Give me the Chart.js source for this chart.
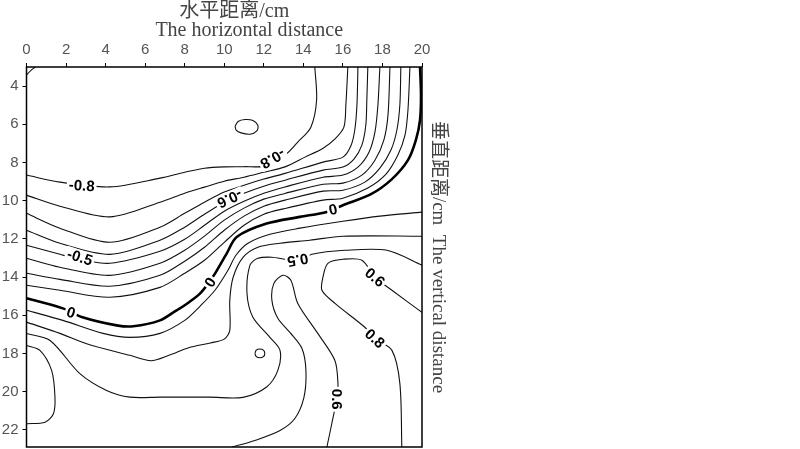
<!DOCTYPE html>
<html><head><meta charset="utf-8">
<script src="https://cdn.jsdelivr.net/npm/chart.js@4.4.1/dist/chart.umd.min.js"></script>
<style>html,body{margin:0;padding:0;background:#fff;}#wrap{width:460px;height:449px;}</style>
</head><body>
<div id="wrap"><canvas id="c" width="460" height="449"></canvas></div>
<script>
// tick labels
const xTicks = [0,2,4,6,8,10,12,14,16,18,20];
const yTicks = [4,6,8,10,12,14,16,18,20,22];

// contour lines, [x (cm), y (cm)]
const neg08 = [[0,8.66],[1.69,9.03],[4.22,9.28],[6.75,8.82],[8.0,8.51],[9.0,8.3],[10.0,8.23],[11.0,8.22],[12.0,8.19],[12.46,7.77],[13.07,7.61],[13.72,6.93],[14.38,6.15],[14.67,4.73],[14.58,3.0]];
const band1 = [[0,9.71],[1.69,10.29],[4.22,10.85],[6.75,10.08],[8.0,9.61],[9.0,9.29],[10.0,8.98],[11.0,8.77],[12.0,8.51],[13.07,8.23],[14.08,7.72],[15.0,7.25],[15.59,6.78],[16.05,6.15],[16.15,4.99],[16.25,3.0]];
const band2 = [[0,10.66],[1.69,11.44],[4.22,12.18],[6.75,11.39],[8.0,10.66],[9.0,10.08],[10.0,9.55],[11.0,9.19],[12.0,8.87],[13.07,8.57],[15.0,7.98],[16.0,7.72],[16.4,7.14],[16.6,6.3],[16.71,4.99],[16.76,3.0]];
const band3 = [[0,11.55],[1.69,12.23],[4.22,12.81],[6.75,12.07],[8.0,11.39],[9.0,10.71],[10.0,10.08],[11.0,9.61],[12.0,9.24],[13.07,8.93],[15.0,8.4],[16.0,8.24],[16.56,7.82],[16.96,7.09],[17.16,6.04],[17.21,4.73],[17.26,3.0]];
const band4 = [[0,12.33],[1.69,12.81],[2.7,13.07],[4.22,13.28],[6.75,12.65],[8.0,12.02],[9.0,11.29],[10.0,10.55],[11.0,10.03],[12.0,9.61],[13.07,9.28],[15.0,8.77],[16.0,8.66],[16.76,8.24],[17.32,7.46],[17.62,6.41],[17.77,5.0],[17.87,3.0]];
const band5 = [[0,13.02],[1.69,13.49],[4.22,13.91],[6.75,13.28],[8.0,12.6],[9.0,11.86],[10.0,11.02],[11.0,10.39],[12.0,9.92],[13.07,9.62],[15.0,9.14],[16.0,9.08],[16.96,8.66],[17.62,7.88],[18.07,6.83],[18.28,5.52],[18.38,3.0]];
const band6 = [[0,13.8],[1.69,14.12],[4.22,14.48],[6.75,13.91],[8.0,13.17],[9.0,12.44],[10.0,11.55],[11.0,10.81],[12.0,10.29],[13.07,9.97],[15.0,9.5],[16.0,9.45],[17.11,9.03],[17.87,8.3],[18.43,7.35],[18.73,6.3],[18.88,4.99],[18.93,3.0]];
const band7 = [[0,14.43],[1.69,14.69],[4.22,15.06],[6.75,14.54],[8.0,13.8],[9.0,13.12],[10.0,12.18],[11.0,11.29],[12.0,10.71],[13.07,10.41],[15.0,9.97],[16.0,9.87],[17.26,9.34],[18.18,8.61],[18.78,7.61],[19.14,6.57],[19.29,5.25],[19.39,3.0]];
const zero = [[0,15.11],[1.84,15.64],[2.79,16.09],[4.56,16.53],[5.4,16.58],[6.75,16.27],[7.59,15.74],[8.0,15.48],[8.77,14.87],[9.23,14.27],[9.53,13.82],[10.12,12.77],[10.63,11.9],[12.14,11.2],[13.83,10.85],[15.18,10.59],[16.0,10.24],[17.42,9.66],[18.48,8.87],[19.29,7.88],[19.69,6.83],[19.9,5.78],[19.95,4.47],[19.9,3.0]];
const pos1 = [[0,15.74],[1.84,16.27],[3.87,16.95],[5.23,17.16],[6.75,16.95],[8.0,16.27],[8.77,15.53],[9.53,14.69],[10.19,13.64],[10.59,12.86],[11.2,12.23],[12.31,11.76],[13.83,11.44],[16.0,11.08],[17.87,10.81],[20,10.6]];
const pos2 = [[0,16.36],[1.69,16.95],[3.04,17.49],[5.23,18.1],[6.3,18.38],[7.2,18.1],[8.2,17.7],[9.3,17.45],[10.0,17.25],[10.28,16.79],[10.28,15.22],[10.45,14.01],[10.96,12.96],[11.7,12.44],[12.82,12.23],[14.33,12.07],[16.0,11.86],[20,11.86]];
const pos3 = [[0,16.96],[1.19,17.32],[2.7,19.06],[4.05,19.94],[5.23,20.29],[6.75,20.29],[9.28,20.29],[10.95,20.3],[12.14,19.76],[12.71,18.89],[12.82,17.84],[12.31,17.16],[11.45,16.11],[11.15,14.85],[11.3,13.38],[11.7,13.02],[12.41,12.96],[13.07,13.07],[13.72,13.17],[14.43,12.81],[16.1,12.6],[18.23,12.6],[20,13.38]];
const hairpin = [[10.39,22.9],[11.55,22.56],[12.82,22.04],[13.57,21.41],[14.03,20.3],[14.13,18.89],[13.93,17.74],[13.32,16.9],[12.71,16.16],[12.41,15.22],[12.51,14.33],[12.97,13.91],[13.37,14.17],[13.72,15.38],[14.73,16.95],[15.59,18.36],[15.75,19.57],[15.69,20.36],[15.44,21.67],[15.19,22.9]];
const rightLoop = [[20,15.85],[18.48,14.69],[17.62,14.01],[16.96,13.12],[16.0,13.07],[15.24,13.28],[14.99,14.01],[14.94,14.69],[15.6,15.38],[17.11,16.63],[17.62,17.21],[18.48,17.84],[18.88,19.57],[18.98,22.9]];
const leftPocket = [[0,17.58],[0.68,17.84],[1.27,18.89],[1.44,20.29],[1.36,21.16],[0.94,21.6],[0,21.68]];
const topEllipse = [[10.55,6.1],[10.7,5.85],[11.05,5.75],[11.45,5.8],[11.7,6.05],[11.65,6.35],[11.3,6.52],[10.85,6.45],[10.6,6.3],[10.55,6.1]];
const smallCircle = [[11.55,18.0],[11.62,17.83],[11.8,17.77],[11.98,17.83],[12.05,18.0],[11.98,18.17],[11.8,18.23],[11.62,18.17],[11.55,18.0]];
const cornerArc = [[0,3.42],[0.2,3.2],[0.45,3.0]];

// contour labels: text, x, y, angle (deg)
const labelTexts = ['-0.8','-0.8','-0.6','-0.5','0','0','0','0.5','0.6','0.8','0.6'];
const labelX = [2.79,12.46,10.28,2.7,2.25,9.28,15.5,13.72,17.62,17.62,15.69];
const labelY = [9.2,7.8,9.9,12.95,15.85,14.27,10.45,13.12,14.01,17.21,20.4];
const labelAngle = [4,150,155,18,18,-58,-12,170,40,42,90];

const thin = [neg08,band1,band2,band3,band4,band5,band6,band7,pos1,pos2,pos3,hairpin,rightLoop,leftPocket,topEllipse,smallCircle,cornerArc];
const toPts = a => a.map(p => ({x:p[0], y:p[1]}));
const datasets = thin.map(a => ({data:toPts(a), borderColor:'#111', borderWidth:1.1, pointRadius:0, showLine:true, tension:0.3, fill:false}));
datasets.push({data:toPts(zero), borderColor:'#000', borderWidth:2.6, pointRadius:0, showLine:true, tension:0.3, fill:false});

const labelPlugin = {
  id:'contourLabels',
  afterDatasetsDraw(chart){
    const {ctx, chartArea:a} = chart;
    const xs = chart.scales.x, ys = chart.scales.y;
    ctx.save();
    ctx.beginPath(); ctx.rect(a.left, a.top, a.right-a.left, a.bottom-a.top); ctx.clip();
    ctx.font = 'bold 15px "Liberation Sans", Arial, sans-serif';
    ctx.textAlign = 'center'; ctx.textBaseline = 'middle';
    for (let i=0;i<labelTexts.length;i++){
      const px = xs.getPixelForValue(labelX[i]), py = ys.getPixelForValue(labelY[i]);
      ctx.save(); ctx.translate(px,py); ctx.rotate(labelAngle[i]*Math.PI/180);
      const w = ctx.measureText(labelTexts[i]).width;
      ctx.fillStyle = '#fff'; ctx.fillRect(-w/2-2,-7,w+4,14);
      ctx.fillStyle = '#000'; ctx.fillText(labelTexts[i],0,1);
      ctx.restore();
    }
    ctx.restore();
    ctx.save();
    ctx.strokeStyle = '#000'; ctx.lineWidth = 1.5;
    ctx.strokeRect(a.left, a.top, a.right-a.left, a.bottom-a.top);
    ctx.restore();
  }
};

const tickFont = {family:"'Liberation Sans', Arial, sans-serif", size:15};
const topTitleFont = {family:"'Liberation Serif', 'Noto Sans CJK SC', serif", size:20, lineHeight:'19px'};
const sideTitleFont = {family:"'Liberation Serif', 'Noto Sans CJK SC', serif", size:19, lineHeight:'20px'};

new Chart(document.getElementById('c'), {
  type:'scatter',
  data:{datasets},
  options:{
    responsive:false, animation:false,
    layout:{padding:{left:0,right:0,top:0,bottom:2}},
    plugins:{legend:{display:false}, tooltip:{enabled:false}},
    scales:{
      x:{type:'linear', position:'top', min:0, max:20,
        afterBuildTicks:s=>{s.ticks = xTicks.map(v=>({value:v}));},
        afterFit:s=>{s.height = 67;},
        ticks:{font:tickFont, color:'#555', padding:4, maxRotation:0, autoSkip:false},
        grid:{display:true, drawOnChartArea:false, drawTicks:true, tickLength:4, color:'#000'},
        border:{display:false},
        title:{display:true, text:['\u2003水平距离/cm','\u2003\u2003  The horizontal distance'], font:topTitleFont, color:'#444', padding:{top:2,bottom:0}}
      },
      y:{type:'linear', position:'left', reverse:true, min:3, max:22.9,
        afterBuildTicks:s=>{s.ticks = yTicks.map(v=>({value:v}));},
        afterFit:s=>{s.width = 26.5; s.paddingTop = 0; s.paddingBottom = 0;},
        ticks:{font:tickFont, color:'#555', padding:4, autoSkip:false},
        grid:{display:true, drawOnChartArea:false, drawTicks:true, tickLength:4, color:'#000'},
        border:{display:false}
      },
      y2:{type:'linear', position:'right', reverse:true, min:3, max:22.9,
        afterFit:s=>{s.width = 38; s.paddingTop = 0; s.paddingBottom = 0;},
        ticks:{display:false}, grid:{display:false}, border:{display:false},
        title:{display:true, text:'垂直距离/cm  The vertical distance', font:sideTitleFont, color:'#444', padding:{top:12,bottom:0}}
      }
    }
  },
  plugins:[labelPlugin]
});
</script>
</body></html>
